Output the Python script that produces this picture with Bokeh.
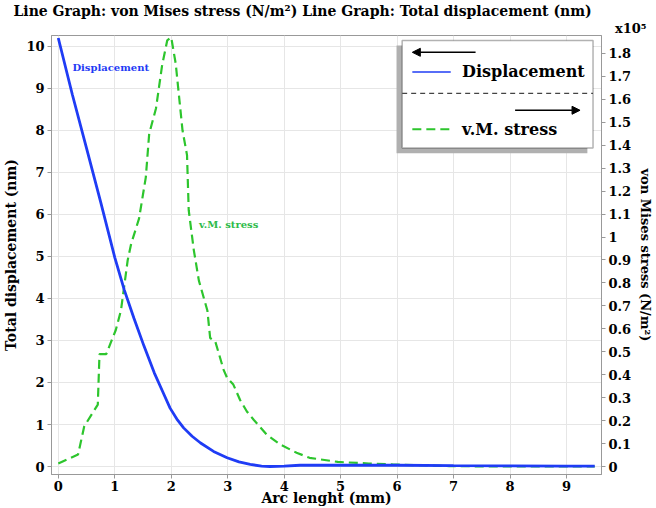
from bokeh.plotting import figure
from bokeh.models import Range1d, LinearAxis, FixedTicker, Label, Arrow, NormalHead, BoxAnnotation, Title
from bokeh.embed import file_html
from bokeh.resources import INLINE

# ---- data ----
arc_disp = [0, 0.25, 0.5, 0.75, 1.0, 1.17, 1.34, 1.52, 1.70, 1.85, 1.98, 2.1, 2.22, 2.37,
            2.52, 2.75, 2.99, 3.2, 3.4, 3.6, 3.75, 4.0, 4.28, 5.0, 6.0, 7.0, 8.0, 9.0, 9.5]
displacement = [10.2, 8.85, 7.58, 6.30, 4.98, 4.20, 3.53, 2.86, 2.23, 1.78, 1.39, 1.13, 0.92,
                0.72, 0.56, 0.36, 0.21, 0.11, 0.05, 0.01, 0.0, 0.01, 0.03, 0.035, 0.03, 0.02,
                0.015, 0.01, 0.01]

arc_stress = [0, 0.35, 0.46, 0.70, 0.73, 0.85, 1.02, 1.11, 1.23, 1.29, 1.43, 1.55, 1.61, 1.73,
              1.84, 1.93, 2.0, 2.08, 2.20, 2.28, 2.31, 2.40, 2.49, 2.64, 2.69, 2.78, 2.93, 2.99,
              3.10, 3.22, 3.34, 3.46, 3.69, 3.93, 4.22, 4.45, 4.95, 5.5, 5.92, 6.92, 7.7, 8.5,
              9.5]
stress_e5 = [0.013, 0.052, 0.175, 0.27, 0.49, 0.49, 0.596, 0.68, 0.90, 0.97, 1.08, 1.26, 1.45,
             1.56, 1.75, 1.857, 1.87, 1.755, 1.465, 1.357, 1.117, 0.943, 0.81, 0.68, 0.56, 0.545,
             0.42, 0.386, 0.357, 0.29, 0.24, 0.204, 0.139, 0.096, 0.06, 0.038, 0.02, 0.013,
             0.009, 0.002, 0.0, 0.0, 0.0]

x_ticks = [0, 1, 2, 3, 4, 5, 6, 7, 8, 9]
left_ticks = [0, 1, 2, 3, 4, 5, 6, 7, 8, 9, 10]
right_ticks = [0, 0.1, 0.2, 0.3, 0.4, 0.5, 0.6, 0.7, 0.8, 0.9, 1, 1.1, 1.2, 1.3, 1.4, 1.5,
               1.6, 1.7, 1.8]
right_labels = ["0", "0.1", "0.2", "0.3", "0.4", "0.5", "0.6", "0.7", "0.8", "0.9", "1",
                "1.1", "1.2", "1.3", "1.4", "1.5", "1.6", "1.7", "1.8"]

FONT = "DejaVu Serif"
BLUE = "#1f3cf5"
GREEN = "#2dc52d"

p = figure(width=656, height=508, output_backend="svg", toolbar_location=None,
           x_range=Range1d(-0.12, 9.62), y_range=Range1d(-0.19, 10.26),
           min_border_left=50, min_border_right=53, min_border_top=34, min_border_bottom=33,
           background_fill_color="white", border_fill_color="white")
p.extra_y_ranges = {"stress": Range1d(-0.0348, 1.8781)}

# main title (outermost)
p.title.text = "Line Graph: von Mises stress (N/m\u00b2) Line Graph: Total displacement (nm)"
p.title.align = "left"
p.title.offset = -38
p.title.text_font = FONT
p.title.text_font_style = "bold"
p.title.text_font_size = "14px"
p.title.text_color = "black"
p.title.standoff = 0

# scale factor marker next to the top of the right axis (nearest the frame)
scale_mark = Title(text="x10\u2075", align="right", offset=-45, text_font=FONT,
                   text_font_style="bold", text_font_size="13px", text_color="black",
                   standoff=0)
p.add_layout(scale_mark, "above")

p.outline_line_color = "#999999"

# axes
p.xaxis.ticker = FixedTicker(ticks=x_ticks)
p.yaxis.ticker = FixedTicker(ticks=left_ticks)
p.yaxis.axis_label = "Total displacement (nm)"
p.xaxis.axis_label = "Arc lenght (mm)"

ry = LinearAxis(y_range_name="stress", ticker=FixedTicker(ticks=right_ticks),
                axis_label="von Mises stress (N/m\u00b2)")
ry.major_label_overrides = {t: l for t, l in zip(right_ticks, right_labels)}
p.add_layout(ry, "right")

for ax in (p.xaxis[0], p.yaxis[0], ry):
    ax.major_label_text_font = FONT
    ax.major_label_text_font_style = "bold"
    ax.major_label_text_font_size = "13px"
    ax.major_label_text_color = "black"
    ax.axis_label_text_font = FONT
    ax.axis_label_text_font_style = "bold"
    ax.axis_label_text_font_size = "14px"
    ax.axis_label_text_color = "black"
    ax.axis_line_color = "#999999"
    ax.major_tick_line_color = "#999999"
    ax.major_tick_out = 4
    ax.major_tick_in = 0
    ax.minor_tick_line_color = None
    ax.major_label_standoff = 3
    ax.axis_label_standoff = 4
ry.axis_label_text_font_size = "13px"
p.xaxis.major_label_standoff = 2
p.xaxis.axis_label_standoff = -4

p.xgrid.grid_line_color = "#e6e6e6"
p.ygrid.grid_line_color = "#e6e6e6"

# series
p.line(arc_stress, stress_e5, y_range_name="stress", line_color=GREEN, line_width=2.2,
       line_dash="9 5")
p.line(arc_disp, displacement, line_color=BLUE, line_width=2.8)

# inline labels
p.add_layout(Label(x=0.25, y=9.50, text="Displacement", text_font=FONT,
                   text_font_style="bold", text_font_size="10px", text_align="left",
                   text_baseline="middle", text_color=BLUE))
p.add_layout(Label(x=2.49, y=5.75, text="v.M. stress", text_font=FONT,
                   text_font_style="bold", text_font_size="10px", text_align="left",
                   text_baseline="middle", text_color="#2dbb4a"))

# legend box (drawn by hand: shadow, box, arrows, separator)
p.add_layout(BoxAnnotation(left=5.99, right=9.37, top=10.02, bottom=7.46,
                           fill_color="#b0b0b0", fill_alpha=1, line_color=None, level="overlay"))
p.add_layout(BoxAnnotation(left=6.09, right=9.47, top=10.14, bottom=7.58,
                           fill_color="white", fill_alpha=1, line_color="black",
                           line_width=1.5, level="overlay"))
p.add_layout(Arrow(x_start=7.39, y_start=9.86, x_end=6.27, y_end=9.86, line_color="black",
                   line_width=1.5, end=NormalHead(size=8, fill_color="black",
                                                  line_color="black"), level="overlay"))
p.add_layout(Arrow(x_start=6.27, y_start=9.39, x_end=6.95, y_end=9.39, line_color=BLUE,
                   line_width=1.5, end=None, level="overlay"))
p.add_layout(Label(x=7.15, y=9.40, text="Displacement", text_font=FONT,
                   text_font_style="bold", text_font_size="16px", text_align="left",
                   text_baseline="middle", text_color="black", level="overlay"))
p.add_layout(Arrow(x_start=6.09, y_start=8.88, x_end=9.47, y_end=8.88, line_color="#444444",
                   line_width=1.2, line_dash="5 4", end=None, level="overlay"))
p.add_layout(Arrow(x_start=8.09, y_start=8.48, x_end=9.24, y_end=8.48, line_color="black",
                   line_width=1.5, end=NormalHead(size=8, fill_color="black",
                                                  line_color="black"), level="overlay"))
p.add_layout(Arrow(x_start=6.27, y_start=8.03, x_end=6.95, y_end=8.03, line_color=GREEN,
                   line_width=2, line_dash="9 5", end=None, level="overlay"))
p.add_layout(Label(x=7.15, y=8.03, text="v.M. stress", text_font=FONT,
                   text_font_style="bold", text_font_size="16px", text_align="left",
                   text_baseline="middle", text_color="black", level="overlay"))

open("out.html", "w").write(file_html(p, INLINE))
